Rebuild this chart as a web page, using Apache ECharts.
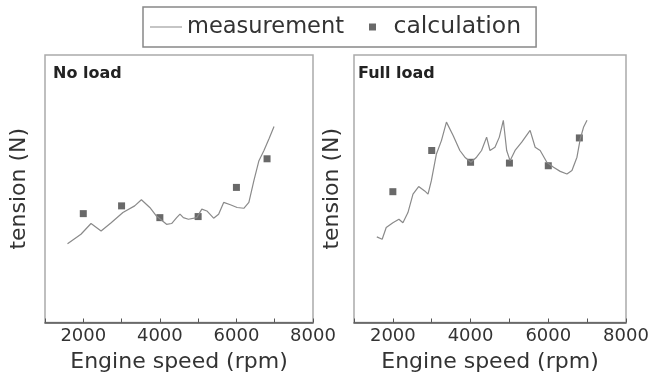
<!DOCTYPE html>
<html>
<head>
<meta charset="utf-8">
<script src="https://cdn.jsdelivr.net/npm/echarts@6/dist/echarts.min.js"></script>
<style>html,body{margin:0;padding:0;background:#fff;}#c{width:658px;height:380px;}</style>
</head>
<body>
<div id="c"></div>
<script>
// ---- data (y in arbitrary tension units) ----
var noLoadMeasX = [1588,1939,2202,2465,2728,3035,3342,3518,3737,3912,4175,4307,4439,4526,4614,4746,4965,5096,5228,5404,5535,5667,5842,6018,6193,6325,6456,6588,6719,6851,6982];
var noLoadMeasY = [29.4,33.0,37.0,34.2,37.3,41.1,43.6,45.9,43.0,39.8,36.7,37.0,39.2,40.5,39.2,38.6,39.2,42.4,41.7,39.0,40.5,44.9,44.0,43.0,42.7,44.9,53.0,60.5,64.3,68.7,73.3];
var noLoadCalcX = [2000,3000,4000,5000,6000,6800];
var noLoadCalcY = [40.7,43.6,39.2,39.6,50.5,61.2];

var fullLoadMeasX = [1587,1725,1829,2001,2156,2259,2388,2518,2664,2819,2905,2991,3121,3250,3379,3551,3724,3853,4008,4154,4283,4413,4499,4628,4740,4843,4929,5016,5145,5317,5532,5662,5791,5963,6135,6307,6480,6609,6738,6824,6910,6997];
var fullLoadMeasY = [32.0,31.1,35.5,37.3,38.6,37.3,41.1,48.0,50.8,49.2,48.0,53.0,63.0,68.0,74.9,69.9,64.3,61.8,59.9,61.8,64.3,69.3,64.3,65.5,69.3,75.6,64.3,60.5,64.3,67.4,71.8,65.5,64.3,59.9,58.0,56.5,55.5,56.8,61.8,68.7,73.1,75.6];
var fullLoadCalcX = [2000,3000,4000,5000,6000,6800];
var fullLoadCalcY = [48.9,64.3,59.9,59.6,58.6,69.0];

var xTickLabels = [2000,4000,6000,8000];
var panelTitles = ['No load','Full load'];
var xName = 'Engine speed (rpm)';
var yName = 'tension (N)';

function zip(xs, ys){ return xs.map(function(x,i){ return [x, ys[i]]; }); }

var FONT = 'DejaVu Sans';
function xAxis(idx){
  return {
    gridIndex: idx, type: 'value', min: 1000, max: 8000, interval: 1000,
    name: xName, nameLocation: 'middle', nameGap: 29,
    nameTextStyle: {fontFamily: FONT, fontSize: 22, color: '#333'},
    axisLine: {show: true, lineStyle: {color: '#555', width: 1.5}},
    axisTick: {show: true, inside: true, length: 4, lineStyle: {color: '#555'}},
    axisLabel: {margin: 5, fontFamily: FONT, fontSize: 18, color: '#333',
      showMinLabel: true, showMaxLabel: true,
      formatter: function(v){ return xTickLabels.indexOf(v) >= 0 ? String(v) : ''; }},
    splitLine: {show: false}
  };
}
function yAxis(idx, gap){
  return {
    gridIndex: idx, type: 'value', min: 0, max: 100,
    name: yName, nameLocation: 'middle', nameGap: gap, nameRotate: 90,
    nameTextStyle: {fontFamily: FONT, fontSize: 22, color: '#333'},
    axisLine: {show: false}, axisTick: {show: false}, axisLabel: {show: false},
    splitLine: {show: false}
  };
}
var lineColor = '#8a8a8a';
var dotColor = '#444';

var option = {
  animation: false,
  backgroundColor: '#fff',
  legend: {
    left: 143, top: 7,
    padding: [8, 15, 8, 7],
    borderColor: '#888', borderWidth: 1.5,
    itemWidth: 32, itemHeight: 7, itemGap: 25,
    textStyle: {fontFamily: FONT, fontSize: 22, color: '#333'},
    data: [
      {name: 'measurement', icon: 'path://M0,0h32v1h-32z', textStyle: {fontSize: 22.5}},
      {name: 'calculation', icon: 'path://M0,0h10v10h-10z', textStyle: {fontSize: 23.5}}
    ]
  },
  grid: [
    {left: 45, width: 268, top: 55, height: 267.5, show: true, borderColor: '#aaa', borderWidth: 1.5, containLabel: false},
    {left: 354, width: 272, top: 55, height: 267.5, show: true, borderColor: '#aaa', borderWidth: 1.5, containLabel: false}
  ],
  xAxis: [xAxis(0), xAxis(1)],
  yAxis: [yAxis(0, 15), yAxis(1, 11)],
  graphic: [
    {type: 'text', left: 53, top: 66, style: {text: panelTitles[0], font: 'bold 16px "DejaVu Sans"', fill: '#222'}},
    {type: 'text', left: 358, top: 66, style: {text: panelTitles[1], font: 'bold 16px "DejaVu Sans"', fill: '#222'}}
  ],
  series: [
    {name: 'measurement', type: 'line', xAxisIndex: 0, yAxisIndex: 0, symbol: 'none',
     lineStyle: {color: lineColor, width: 1.2}, itemStyle: {color: lineColor}, data: zip(noLoadMeasX, noLoadMeasY)},
    {name: 'calculation', type: 'scatter', xAxisIndex: 0, yAxisIndex: 0, symbol: 'rect', symbolSize: 7,
     itemStyle: {color: dotColor}, data: zip(noLoadCalcX, noLoadCalcY)},
    {name: 'measurement', type: 'line', xAxisIndex: 1, yAxisIndex: 1, symbol: 'none',
     lineStyle: {color: lineColor, width: 1.2}, itemStyle: {color: lineColor}, data: zip(fullLoadMeasX, fullLoadMeasY)},
    {name: 'calculation', type: 'scatter', xAxisIndex: 1, yAxisIndex: 1, symbol: 'rect', symbolSize: 7,
     itemStyle: {color: dotColor}, data: zip(fullLoadCalcX, fullLoadCalcY)}
  ]
};
var chart = echarts.init(document.getElementById('c'), null, {renderer: 'canvas'});
chart.setOption(option);
</script>
</body>
</html>
